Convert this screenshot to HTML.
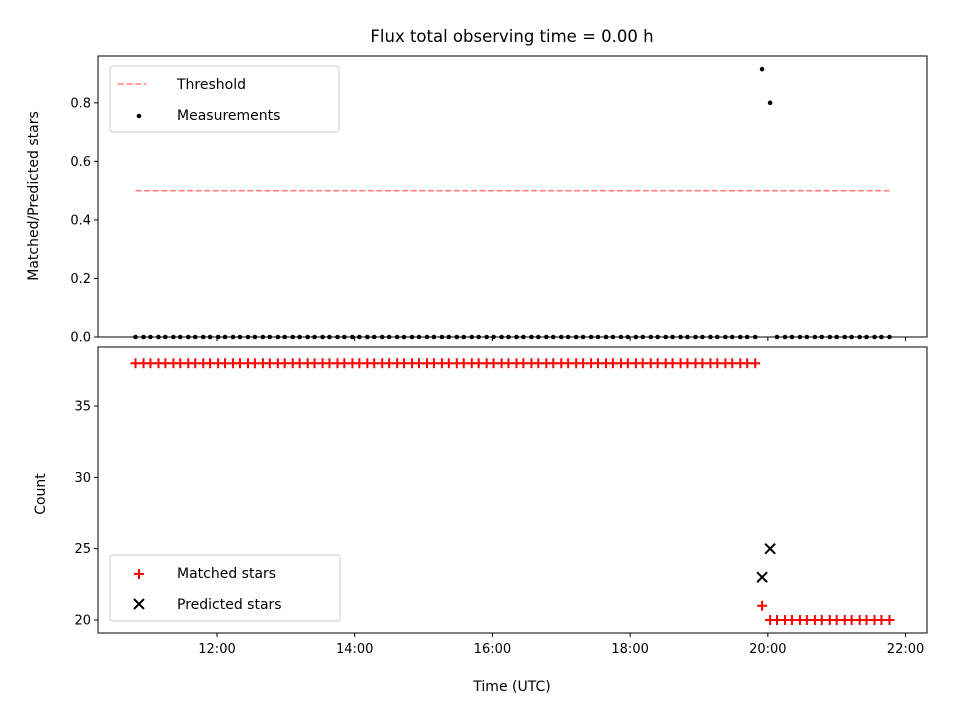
<!DOCTYPE html>
<html><head><meta charset="utf-8"><style>body{margin:0;background:#fff}svg{font-family:"DejaVu Sans","Liberation Sans",sans-serif}</style></head>
<body>
<svg id="c" width="960" height="720" xmlns="http://www.w3.org/2000/svg">
<rect width="960" height="720" fill="#fff"/>
<text x="512" y="42" font-size="16.5" text-anchor="middle">Flux total observing time = 0.00 h</text>
<g id="topPanel"></g>
<g id="botPanel"></g>
</svg>
<script>
const times=[649,656,662,669,675,682,688,695,701,708,714,721,727,734,740,747,753,760,766,773,779,786,792,799,805,812,818,825,831,838,844,851,857,864,870,877,883,890,896,903,909,916,922,929,935,942,948,955,961,968,974,981,987,994,1000,1007,1013,1020,1026,1033,1039,1046,1052,1059,1065,1072,1078,1085,1091,1098,1104,1111,1117,1124,1130,1137,1143,1150,1156,1163,1169,1176,1182,1189,1195,1202,1208,1215,1221,1228,1234,1241,1247,1254,1260,1267,1273,1280,1286,1293,1299,1306];
const ratioSpecial={1195:0.915,1202:0.80};
const matchedSpecial={1195:21};
const predTimes=[1195,1202];
const predVals=[23,25];
const threshold=0.5;
const xTicks=[720,840,960,1080,1200,1320];
const xTickLabels=["12:00","14:00","16:00","18:00","20:00","22:00"];
const yTopTicks=[0,0.2,0.4,0.6,0.8];
const yBotTicks=[20,25,30,35];

const NS="http://www.w3.org/2000/svg";
function mk(p,t,a){const e=document.createElementNS(NS,t);for(const k in a)e.setAttribute(k,a[k]);p.appendChild(e);return e;}
const L=98,R=927,T1=56,B1=337,T2=347,B2=633;
const xs=m=>L+(m-616.3)/(1338.7-616.3)*(R-L);
const y1=v=>B1-(v-0)/(0.96)*(B1-T1);
const y2=v=>B2-(v-19.09)/(39.14-19.09)*(B2-T2);
const topG=document.getElementById('topPanel'),botG=document.getElementById('botPanel');

let thr=mk(topG,'line',{x1:xs(times[0]),x2:xs(times[times.length-1]),y1:y1(threshold),y2:y1(threshold),stroke:'#ff7f7f','stroke-width':1.6,'stroke-dasharray':'6,2.6'});


times.forEach(t=>{const v=ratioSpecial[t]!==undefined?ratioSpecial[t]:0;
 const c=mk(topG,'circle',{cx:xs(t),cy:y1(v),r:2.3,fill:'#000'});
 
 });
mk(topG,'rect',{x:L,y:T1,width:R-L,height:B1-T1,fill:'none',stroke:'#000','stroke-width':1});
yTopTicks.forEach(v=>{const y=y1(v);mk(topG,'line',{x1:L-4,x2:L,y1:y,y2:y,stroke:'#000'});
 const tx=mk(topG,'text',{x:L-7,y:y+4.5,'font-size':13,'text-anchor':'end'});tx.textContent=v.toFixed(1);
 
 });
xTicks.forEach(m=>mk(topG,'line',{x1:xs(m),x2:xs(m),y1:B1,y2:B1+4,stroke:'#000'}));
let yt=mk(topG,'text',{x:38,y:196,'font-size':14,'text-anchor':'middle',transform:'rotate(-90 38 196)'});yt.textContent='Matched/Predicted stars';


let lg=mk(topG,'g',{});


mk(lg,'rect',{x:110,y:66,width:229,height:66,rx:3,fill:'#fff',stroke:'#ccc','fill-opacity':0.8});
mk(lg,'line',{x1:118,x2:146,y1:84,y2:84,stroke:'#ff7f7f','stroke-width':1.6,'stroke-dasharray':'6,2.6'});
let t1=mk(lg,'text',{x:177,y:89,'font-size':14});t1.textContent='Threshold';
mk(lg,'circle',{cx:139,cy:116,r:2.3,fill:'#000'});
let t2=mk(lg,'text',{x:177,y:120,'font-size':14});t2.textContent='Measurements';

times.forEach(t=>{const v=matchedSpecial[t]!==undefined?matchedSpecial[t]:(t<1195?38:20);
 const x=xs(t),y=y2(v);const g=mk(botG,'path',{d:`M${x-5},${y}H${x+5}M${x},${y-5}V${y+5}`,stroke:'#f00','stroke-width':2});
 
 });
predTimes.forEach((t,i)=>{const x=xs(t),y=y2(predVals[i]);
 const g=mk(botG,'path',{d:`M${x-5},${y-5}L${x+5},${y+5}M${x-5},${y+5}L${x+5},${y-5}`,stroke:'#000','stroke-width':2});
 
 });
mk(botG,'rect',{x:L,y:T2,width:R-L,height:B2-T2,fill:'none',stroke:'#000','stroke-width':1});
yBotTicks.forEach(v=>{const y=y2(v);mk(botG,'line',{x1:L-4,x2:L,y1:y,y2:y,stroke:'#000'});
 const tx=mk(botG,'text',{x:L-7,y:y+4.5,'font-size':13,'text-anchor':'end'});tx.textContent=v;
 
 });
xTicks.forEach((m,i)=>{const x=xs(m);mk(botG,'line',{x1:x,x2:x,y1:B2,y2:B2+4,stroke:'#000'});
 const tx=mk(botG,'text',{x:x,y:B2+20,'font-size':13,'text-anchor':'middle'});tx.textContent=xTickLabels[i];
 
 });
let xt=mk(botG,'text',{x:512,y:691,'font-size':14,'text-anchor':'middle'});xt.textContent='Time (UTC)';


let yb=mk(botG,'text',{x:45,y:494,'font-size':14,'text-anchor':'middle',transform:'rotate(-90 45 494)'});yb.textContent='Count';


let lg2=mk(botG,'g',{});


mk(lg2,'rect',{x:110,y:555,width:230,height:66,rx:3,fill:'#fff',stroke:'#ccc','fill-opacity':0.8});
mk(lg2,'path',{d:'M134,574H144M139,569V579',stroke:'#f00','stroke-width':2});
let t3=mk(lg2,'text',{x:177,y:578,'font-size':14});t3.textContent='Matched stars';
mk(lg2,'path',{d:'M134,599L144,609M134,609L144,599',stroke:'#000','stroke-width':2});
let t4=mk(lg2,'text',{x:177,y:609,'font-size':14});t4.textContent='Predicted stars';
</script>
</body></html>
